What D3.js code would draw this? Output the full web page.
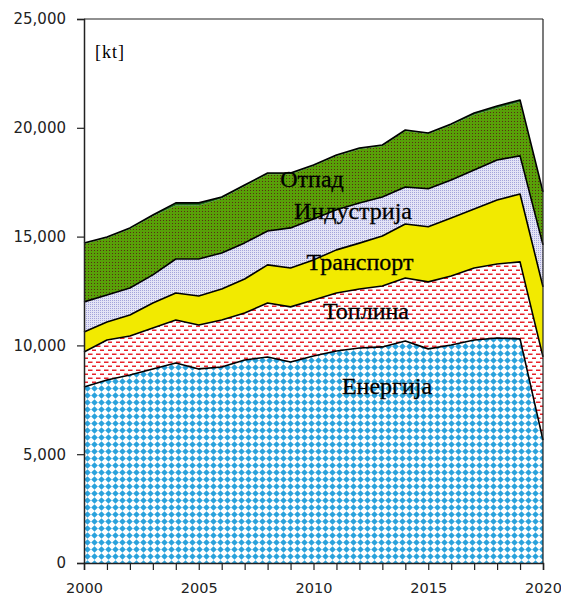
<!DOCTYPE html>
<html>
<head>
<meta charset="utf-8">
<script src="https://cdn.jsdelivr.net/npm/d3@7"></script>
<style>
html,body{margin:0;padding:0;background:#fff;}
svg{display:block;}
</style>
</head>
<body>
<svg id="chart" width="561" height="598"></svg>
<script>
const years = [2000,2001,2002,2003,2004,2005,2006,2007,2008,2009,2010,2011,2012,2013,2014,2015,2016,2017,2018,2019,2020];
const energy    = [8090,8410,8640,8920,9190,8920,9010,9330,9470,9240,9510,9740,9880,9930,10200,9840,10020,10250,10340,10300,5650];
const heat      = [1610,1840,1790,1880,1980,2020,2160,2160,2480,2530,2580,2670,2710,2800,2900,3080,3170,3310,3400,3540,3820];
const transport = [920,830,970,1150,1240,1330,1420,1560,1750,1790,1840,1980,2110,2300,2480,2530,2660,2710,2940,3120,3220];
const industry  = [1380,1240,1240,1290,1560,1700,1660,1660,1560,1840,1880,1840,1840,1790,1700,1750,1750,1790,1840,1750,1930];
const waste     = [2660,2610,2710,2690,2460,2460,2500,2600,2610,2470,2430,2470,2480,2340,2570,2510,2520,2540,2380,2470,2380];
const other     = [50,50,50,60,120,120,70,60,50,50,50,50,50,50,50,50,60,80,100,100,50];
const seriesKeys   = ["energy","heat","transport","industry","waste","other"];
const seriesLabels = ["Енергија","Топлина","Транспорт","Индустрија","Отпад",""];
const yTicks = [0,5000,10000,15000,20000,25000];
const xTickLabels = [2000,2005,2010,2015,2020];
const unitLabel = "[kt]";

const table = years.map((y,i)=>({year:y, energy:energy[i], heat:heat[i], transport:transport[i], industry:industry[i], waste:waste[i], other:other[i]}));

const svg = d3.select("#chart");
const x = d3.scaleLinear().domain([2000,2020]).range([84,543]);
const y = d3.scaleLinear().domain([0,25000]).range([563,19]);

// patterns
const defs = svg.append("defs");
const pE = defs.append("pattern").attr("id","pEnergy").attr("patternUnits","userSpaceOnUse").attr("width",7).attr("height",7);
pE.append("rect").attr("width",7).attr("height",7).attr("fill","#ffffff");
pE.append("polygon").attr("points","3.5,0.2 6.8,3.5 3.5,6.8 0.2,3.5").attr("fill","#2aa2dc");

const pH = defs.append("pattern").attr("id","pHeat").attr("patternUnits","userSpaceOnUse").attr("width",8).attr("height",8);
pH.append("rect").attr("width",8).attr("height",8).attr("fill","#ffffff");
pH.append("rect").attr("x",0).attr("y",1.5).attr("width",4.5).attr("height",1.5).attr("fill","#e8222a");
pH.append("rect").attr("x",4).attr("y",5.5).attr("width",4.5).attr("height",1.5).attr("fill","#e8222a");

const pI = defs.append("pattern").attr("id","pInd").attr("patternUnits","userSpaceOnUse").attr("width",2).attr("height",2);
pI.append("rect").attr("width",2).attr("height",2).attr("fill","#e4e4f6");
pI.append("rect").attr("width",1).attr("height",1).attr("fill","#a4a4da");

const pW = defs.append("pattern").attr("id","pWaste").attr("patternUnits","userSpaceOnUse").attr("width",3).attr("height",3);
pW.append("rect").attr("width",3).attr("height",3).attr("fill","#58a008");
pW.append("rect").attr("x",1).attr("y",1).attr("width",1).attr("height",1).attr("fill","#5a2c14");

const fills = {energy:"url(#pEnergy)", heat:"url(#pHeat)", transport:"#f2ea00", industry:"url(#pInd)", waste:"url(#pWaste)", other:"#1f6e1a"};

const stack = d3.stack().keys(seriesKeys);
const layers = stack(table);

const area = d3.area().x(d=>x(d.data.year)).y0(d=>y(d[0])).y1(d=>y(d[1]));
const topLine = d3.line().x(d=>x(d.data.year)).y(d=>y(d[1]));

svg.append("g").selectAll("path").data(layers).join("path")
  .attr("d",area).attr("fill",d=>fills[d.key]).attr("stroke","none");

svg.append("g").selectAll("path").data(layers.filter(l=>l.key!=="waste")).join("path")
  .attr("d",topLine).attr("fill","none").attr("stroke","#000").attr("stroke-width",1.6).attr("stroke-linejoin","round");

// frame
svg.append("line").attr("x1",x(2000)).attr("x2",x(2020)).attr("y1",y(25000)).attr("y2",y(25000)).attr("stroke","#222").attr("stroke-width",1.2);
svg.append("line").attr("x1",x(2020)).attr("x2",x(2020)).attr("y1",y(25000)).attr("y2",y(0)).attr("stroke","#222").attr("stroke-width",1.2);

// axes
const yAxis = d3.axisLeft(y).tickValues(yTicks).tickSize(7).tickPadding(11).tickFormat(d3.format(","));
const gy = svg.append("g").attr("transform",`translate(${x(2000)},0)`).call(yAxis);
const xAxis = d3.axisBottom(x).tickValues(years).tickSize(7).tickPadding(13)
  .tickFormat(d=>xTickLabels.includes(d)?String(d):"");
const gx = svg.append("g").attr("transform",`translate(0,${y(0)})`).call(xAxis);
[gx,gy].forEach(g=>{
  g.select(".domain").attr("stroke","#222").attr("stroke-width",1.5);
  g.selectAll(".tick line").attr("stroke","#222").attr("stroke-width",1.2);
  g.selectAll(".tick text").attr("fill","#222").style("font-family","'DejaVu Sans', Verdana, sans-serif").style("font-size","15px");
});
gx.selectAll(".tick text").style("font-size","14.5px");

svg.append("text").attr("x",95).attr("y",58).text(unitLabel)
  .style("font-family","'Liberation Serif','Times New Roman',serif").style("font-size","18px")
  .style("letter-spacing","1px").attr("fill","#000");

// series labels
const labelPos = [
  {k:0, cx:387, by:394},
  {k:1, cx:366, by:319},
  {k:2, cx:360, by:270},
  {k:3, cx:353, by:219},
  {k:4, cx:312, by:187}
];
svg.append("g").selectAll("text").data(labelPos).join("text")
  .attr("x",d=>d.cx).attr("y",d=>d.by).attr("text-anchor","middle")
  .text(d=>seriesLabels[d.k])
  .style("font-family","'Liberation Serif','Times New Roman',serif").style("font-size","24px")
  .attr("fill","#000").attr("stroke","#000").attr("stroke-width",0.3);
</script>
</body>
</html>
